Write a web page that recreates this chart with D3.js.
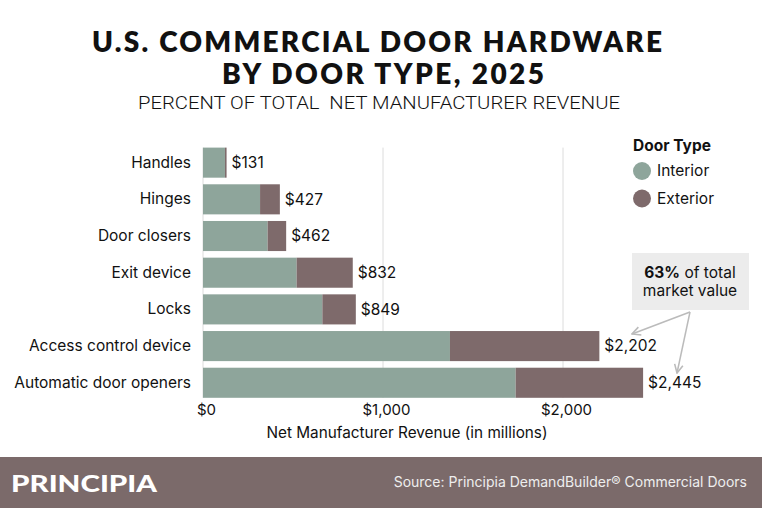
<!DOCTYPE html>
<html>
<head>
<meta charset="utf-8">
<script src="https://cdn.jsdelivr.net/npm/d3@7"></script>
<style>
  body { margin: 0; background: #fff; }
  svg text { font-family: "Inter", "Noto Sans", sans-serif; fill: #111; white-space: pre; }
</style>
</head>
<body>
<div id="chart"></div>
<script>
const categories = ["Handles", "Hinges", "Door closers", "Exit device", "Locks", "Access control device", "Automatic door openers"]
const interior = [122, 317, 359, 520, 663, 1372, 1737]
const exterior = [9, 110, 103, 312, 186, 830, 708]
const seriesNames = ["Interior", "Exterior"]
const xTicks = [0, 1000, 2000]

const width = 762, height = 508
const colors = {Interior: "#8ea59b", Exterior: "#7e6a6b"}

const svg = d3.select("#chart").append("svg")
  .attr("width", width)
  .attr("height", height)

// Titles
svg.append("text")
  .attr("x", 377).attr("y", 52)
  .attr("text-anchor", "middle")
  .attr("textLength", 570).attr("lengthAdjust", "spacing")
  .style("font-family", "Lato").style("font-size", "28px").style("font-weight", 800)
  .text("U.S. COMMERCIAL DOOR HARDWARE")
svg.append("text")
  .attr("x", 383).attr("y", 84)
  .attr("text-anchor", "middle")
  .attr("textLength", 322).attr("lengthAdjust", "spacing")
  .style("font-family", "Lato").style("font-size", "28px").style("font-weight", 800)
  .text("BY DOOR TYPE, 2025")
svg.append("text")
  .attr("x", 379).attr("y", 109)
  .attr("text-anchor", "middle")
  .attr("textLength", 482).attr("lengthAdjust", "spacingAndGlyphs")
  .style("font-family", "Roboto").style("font-size", "18px").style("font-weight", 300)
  .text("PERCENT OF TOTAL  NET MANUFACTURER REVENUE")

// Scales
let xScale = d3.scaleLinear().domain([0, 2500]).range([203, 653])
let yScale = d3.scaleBand().domain(categories).range([141, 404.4]).padding(0.18)

// Gridlines
svg.append("g")
  .selectAll("line")
  .data(xTicks)
  .join("line")
  .attr("x1", d => xScale(d)).attr("x2", d => xScale(d))
  .attr("y1", yScale(categories[0])).attr("y2", yScale(categories[categories.length - 1]) + yScale.bandwidth())
  .attr("stroke", "#dcdcdc")
  .attr("stroke-width", 1)

// Stacked bars
let rows = categories.map((c, i) => ({category: c, Interior: interior[i], Exterior: exterior[i]}))
let stacked = d3.stack().keys(seriesNames)(rows)

svg.append("g")
  .selectAll("g")
  .data(stacked)
  .join("g")
  .attr("fill", d => colors[d.key])
  .selectAll("rect")
  .data(d => d)
  .join("rect")
  .attr("x", d => xScale(d[0]))
  .attr("width", d => xScale(d[1]) - xScale(d[0]))
  .attr("y", d => yScale(d.data.category))
  .attr("height", yScale.bandwidth())

// Value labels
svg.append("g")
  .selectAll("text")
  .data(rows)
  .join("text")
  .attr("x", d => xScale(d.Interior + d.Exterior) + 5)
  .attr("y", d => yScale(d.category) + yScale.bandwidth() / 2)
  .attr("dy", "0.35em")
  .style("font-size", "15.5px")
  .text(d => "$" + d3.format(",")(d.Interior + d.Exterior))

// Y axis (category labels)
let yAxis = d3.axisLeft(yScale).tickSize(0).tickPadding(12)
svg.append("g")
  .attr("transform", "translate(203,0)")
  .call(yAxis)
  .call(g => g.select(".domain").remove())
  .selectAll("text")
  .style("font-size", "15.5px")
  .style("font-family", "Inter")
  .attr("fill", "#111")

// X axis
let xAxis = d3.axisBottom(xScale).tickValues(xTicks).tickSize(0).tickPadding(6)
  .tickFormat(d => "$" + d3.format(",")(d))
svg.append("g")
  .attr("transform", "translate(3,398)")
  .call(xAxis)
  .call(g => g.select(".domain").remove())
  .selectAll("text")
  .style("font-size", "15px")
  .style("font-family", "Inter")
  .attr("fill", "#111")

svg.append("text")
  .attr("x", 407).attr("y", 438)
  .attr("text-anchor", "middle")
  .style("font-size", "15.3px")
  .text("Net Manufacturer Revenue (in millions)")

// Legend
svg.append("text")
  .attr("x", 633).attr("y", 151)
  .style("font-size", "15.5px").style("font-weight", 700)
  .text("Door Type")
let legend = svg.append("g")
  .selectAll("g")
  .data(seriesNames)
  .join("g")
  .attr("transform", (d, i) => "translate(642," + (171 + i * 27.5) + ")")
legend.append("circle").attr("r", 9).attr("fill", d => colors[d])
legend.append("text").attr("x", 15).attr("dy", "0.35em")
  .style("font-size", "15.5px").text(d => d)

// Annotation
svg.append("defs").append("marker")
  .attr("id", "arrow")
  .attr("viewBox", "0 0 10 10")
  .attr("refX", 9).attr("refY", 5)
  .attr("markerWidth", 7).attr("markerHeight", 7)
  .attr("orient", "auto")
  .append("path")
  .attr("d", "M1,1 L9,5 L1,9")
  .attr("fill", "none")
  .attr("stroke", "#bbb")
  .attr("stroke-width", 1.5)

svg.append("rect")
  .attr("x", 632).attr("y", 253)
  .attr("width", 117).attr("height", 57)
  .attr("fill", "#ececec")
let note = svg.append("text")
  .attr("x", 690).attr("y", 278)
  .attr("text-anchor", "middle")
  .style("font-size", "15.5px")
note.append("tspan").style("font-weight", 700).text("63%")
note.append("tspan").text(" of total")
svg.append("text")
  .attr("x", 690).attr("y", 296)
  .attr("text-anchor", "middle")
  .style("font-size", "15.5px")
  .text("market value")

let arrowTargets = [[632, 334], [677, 373]]
svg.append("g")
  .selectAll("line")
  .data(arrowTargets)
  .join("line")
  .attr("x1", 690).attr("y1", 312)
  .attr("x2", d => d[0]).attr("y2", d => d[1])
  .attr("stroke", "#bbb")
  .attr("stroke-width", 1.5)
  .attr("marker-end", "url(#arrow)")

// Footer
svg.append("rect")
  .attr("x", 0).attr("y", 457)
  .attr("width", width).attr("height", height - 457)
  .attr("fill", "#7b6a6a")
svg.append("text")
  .attr("x", 11).attr("y", 492)
  .attr("textLength", 146).attr("lengthAdjust", "spacingAndGlyphs")
  .style("font-family", "Lato").style("font-size", "23px").style("font-weight", 900)
  .style("fill", "#fff")
  .text("PRINCIPIA")
svg.append("text")
  .attr("x", 747).attr("y", 487)
  .attr("text-anchor", "end")
  .style("font-size", "14px")
  .style("fill", "#eee")
  .text("Source: Principia DemandBuilder® Commercial Doors")
</script>
</body>
</html>
